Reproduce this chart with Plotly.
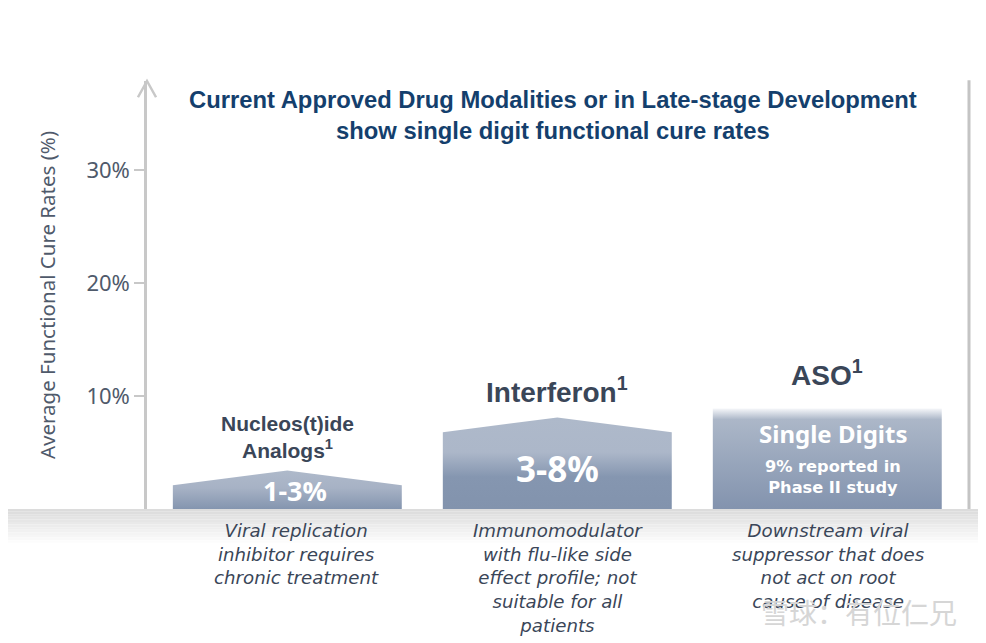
import plotly.graph_objects as go

# ---------------- data ----------------
categories = ["Nucleos(t)ide<br>Analogs<sup>1</sup>", "Interferon<sup>1</sup>", "ASO<sup>1</sup>"]
x_pos = [0, 1, 2]
side_rate = [2.1, 6.8, 8.9]      # % height at bar edges
peak_rate = [3.4, 8.1, 8.9]      # % height at bar centre
range_labels = ["1-3%", "3-8%", "Single Digits"]
aso_note = "9% reported in<br>Phase II study"
descriptions = [
    "Viral replication<br>inhibitor requires<br>chronic treatment",
    "Immunomodulator<br>with flu-like side<br>effect profile; not<br>suitable for all<br>patients",
    "Downstream viral<br>suppressor that does<br>not act on root<br>cause of disease",
]
y_ticks = [10, 20, 30]
y_tick_labels = ["10%", "20%", "30%"]
y_title = "Average Functional Cure Rates (%)"
title_text = ("Current Approved Drug Modalities or in Late-stage Development"
              "<br>show single digit functional cure rates")
watermark = "雪球：有位仁兄"

# ---------------- styles ----------------
half_w = 0.424
gradients = [
    [[0, "#8495af"], [0.55, "#a7b2c5"], [1, "#aeb9ca"]],
    [[0, "#8293ad"], [0.35, "#8596b0"], [0.62, "#acb7c9"], [1, "#aeb9ca"]],
    [[0, "#8393ae"], [0.45, "#97a5bb"], [0.89, "#acb7c8"], [1, "#f6f7fa"]],
]
dark_text = "#3a4658"
bold_font = "Liberation Sans, Arial, sans-serif"

fig = go.Figure()

for i in range(len(x_pos)):
    c = x_pos[i]
    xs = [c - half_w, c - half_w, c, c + half_w, c + half_w, c - half_w]
    ys = [0, side_rate[i], peak_rate[i], side_rate[i], 0, 0]
    fig.add_trace(go.Scatter(
        x=xs, y=ys, mode="lines", fill="toself",
        line=dict(width=0, color="rgba(0,0,0,0)"),
        fillgradient=dict(type="vertical", colorscale=gradients[i]),
        hoverinfo="skip", showlegend=False,
    ))

# category labels above bars
label_y = [6.4, 10.5, 12.05]
label_size = [21, 28, 28]
for i in range(len(x_pos)):
    fig.add_annotation(x=x_pos[i], y=label_y[i], xref="x", yref="y",
                       text="<b>" + categories[i] + "</b>", showarrow=False,
                       font=dict(family=bold_font, size=label_size[i], color=dark_text))

# in-bar labels
in_y = [1.6, 3.6, 6.65]
in_size = [27, 35, 24]
in_shift = [8, 0, 6]
for i in range(len(x_pos)):
    fig.add_annotation(x=x_pos[i], y=in_y[i], xref="x", yref="y", xshift=in_shift[i],
                       text="<b>" + range_labels[i] + "</b>", showarrow=False,
                       font=dict(family="Noto Sans", size=in_size[i], color="white"))
fig.add_annotation(x=x_pos[2], y=2.79, xref="x", yref="y", xshift=6,
                   text="<b>" + aso_note + "</b>", showarrow=False,
                   font=dict(family="DejaVu Sans", size=16.2, color="white"))

# descriptions under ground
desc_shift = [9, 1, 1]
for i in range(len(x_pos)):
    fig.add_annotation(x=x_pos[i], y=-0.02, xref="x", yref="paper", yanchor="top",
                       xshift=desc_shift[i],
                       text="<i>" + descriptions[i] + "</i>", showarrow=False,
                       font=dict(family="DejaVu Sans", size=18.2, color=dark_text))

# title
fig.add_annotation(x=0.494, y=0.921, xref="paper", yref="paper",
                   xanchor="center", yanchor="middle",
                   text="<b>" + title_text + "</b>", showarrow=False,
                   font=dict(family=bold_font, size=23.8, color="#143f6d"))

# watermark
fig.add_annotation(x=0.866, y=-0.241, xref="paper", yref="paper",
                   xanchor="center", yanchor="middle",
                   text=watermark, showarrow=False,
                   font=dict(family="Noto Sans CJK SC", size=28, color="#d6d6d6"))

# ground band (fading gray)
n_strips = 14
band_depth = 0.085
shapes = []
for k in range(n_strips):
    t = k / (n_strips - 1)
    g = int(0xdc + (0xff - 0xdc) * t)
    y0 = -band_depth * k / n_strips
    y1 = -band_depth * (k + 1) / n_strips
    shapes.append(dict(type="rect", xref="paper", yref="paper",
                       x0=-0.2, x1=1.05, y0=y0, y1=y1,
                       fillcolor=f"rgb({g},{g},{g})", line=dict(width=0), layer="below"))
# right frame line
shapes.append(dict(type="line", xref="paper", yref="paper", x0=1, x1=1, y0=0, y1=1.002,
                   line=dict(color="#c4c4c4", width=3)))
# arrow head on y axis
shapes.append(dict(type="path", xref="paper", yref="paper",
                   path="M -0.011,0.962 L 0,1 L 0.011,0.962",
                   line=dict(color="#c8c8c8", width=2.5)))

# page body adds an 8px offset, so margins compensate for it
fig.update_layout(
    width=986, height=643,
    margin=dict(l=139, r=25, t=73, b=142),
    paper_bgcolor="white", plot_bgcolor="white",
    shapes=shapes,
    xaxis=dict(range=[-0.5197, 2.5249], visible=False, fixedrange=True),
    yaxis=dict(range=[0, 37.88], showgrid=False, zeroline=False,
               showline=True, linecolor="#c8c8c8", linewidth=2.5,
               ticks="outside", ticklen=10, tickwidth=2, tickcolor="#c8c8c8",
               tickvals=y_ticks, ticktext=y_tick_labels,
               tickfont=dict(family="Noto Sans", size=22, color="#4f5a6b"),
               title=dict(text=y_title, standoff=26,
                          font=dict(family="Noto Sans", size=20.5, color="#4f5a6b"))),
    showlegend=False,
)

fig.write_html("out.html")
